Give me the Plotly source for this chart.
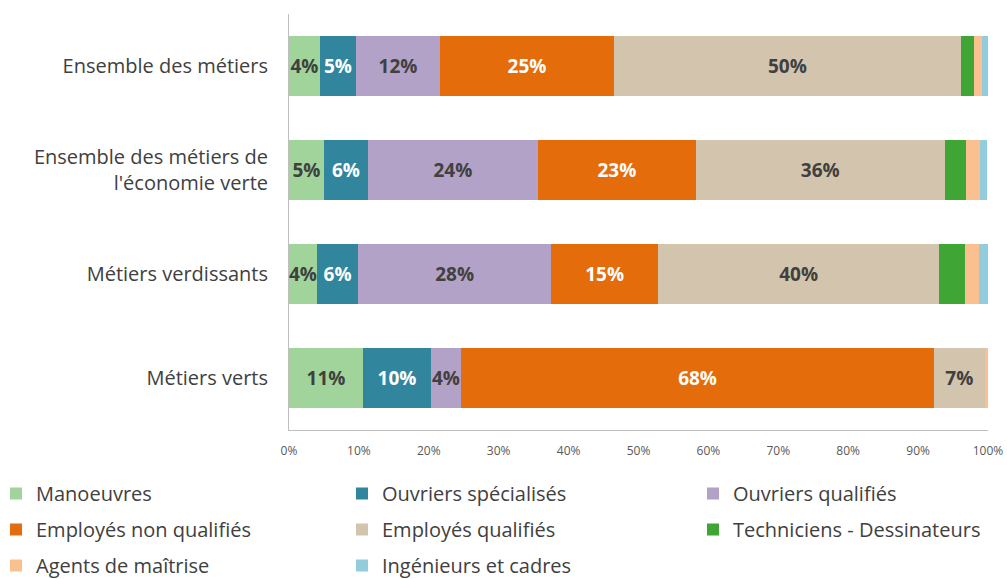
import plotly.graph_objects as go

# categories (top to bottom)
categories = [
    "Ensemble des métiers",
    "Ensemble des métiers de<br>l'économie verte",
    "Métiers verdissants",
    "Métiers verts",
]

series_names = [
    "Manoeuvres",
    "Ouvriers spécialisés",
    "Ouvriers qualifiés",
    "Employés non qualifiés",
    "Employés qualifiés",
    "Techniciens - Dessinateurs",
    "Agents de maîtrise",
    "Ingénieurs et cadres",
]

# shares in %
manoeuvres = [4.4, 5.0, 4.0, 10.6]
ouvriers_specialises = [5.2, 6.3, 5.9, 9.7]
ouvriers_qualifies = [12.0, 24.3, 27.6, 4.3]
employes_non_qualifies = [24.9, 22.6, 15.3, 67.7]
employes_qualifies = [49.6, 35.6, 40.2, 7.2]
techniciens = [1.9, 3.1, 3.7, 0.0]
agents_maitrise = [1.1, 1.9, 2.0, 0.6]
ingenieurs = [0.9, 1.1, 1.3, 0.0]

# labels printed in the bars
lbl_manoeuvres = ["4%", "5%", "4%", "11%"]
lbl_ouvriers_specialises = ["5%", "6%", "6%", "10%"]
lbl_ouvriers_qualifies = ["12%", "24%", "28%", "4%"]
lbl_employes_non_qualifies = ["25%", "23%", "15%", "68%"]
lbl_employes_qualifies = ["50%", "36%", "40%", "7%"]
lbl_empty = ["", "", "", ""]

tick_vals = [0, 10, 20, 30, 40, 50, 60, 70, 80, 90, 100]
tick_text = ["0%", "10%", "20%", "30%", "40%", "50%", "60%", "70%", "80%", "90%", "100%"]

colors = ["#A1D49B", "#31859C", "#B3A2C7", "#E46C0A", "#D3C4AE", "#3FA535", "#FAC090", "#93CDDD"]
text_colors = ["#404040", "#FFFFFF", "#404040", "#FFFFFF", "#404040", "#404040", "#404040", "#404040"]

valeurs = [manoeuvres, ouvriers_specialises, ouvriers_qualifies, employes_non_qualifies,
           employes_qualifies, techniciens, agents_maitrise, ingenieurs]
etiquettes = [lbl_manoeuvres, lbl_ouvriers_specialises, lbl_ouvriers_qualifies,
              lbl_employes_non_qualifies, lbl_employes_qualifies, lbl_empty, lbl_empty, lbl_empty]

FONT = "'Open Sans', sans-serif"
W, H = 1007, 579
ML, MR, MT, MB = 289, 19, 14, 149
PW, PH = W - ML - MR, H - MT - MB

def px_x(px):
    # pixel -> paper x
    return (px - ML) / PW

def px_y(py):
    # pixel -> paper y
    return (H - MB - py) / PH

legendes = ["legend", "legend2", "legend3"]

fig = go.Figure()
for i, (nom, vals, txt, col, tcol) in enumerate(zip(series_names, valeurs, etiquettes, colors, text_colors)):
    fig.add_trace(go.Bar(
        y=categories, x=vals, name=nom, orientation="h",
        marker=dict(color=col, line=dict(width=0)),
        text=txt, textposition="inside", insidetextanchor="middle", textangle=0,
        textfont=dict(family=FONT, size=19, color=tcol, weight="bold"),
        constraintext="none", hoverinfo="x+name",
        legend=legendes[i % 3], legendgroup=nom,
    ))

leg_style = dict(
    orientation="v", xanchor="left", yanchor="top", y=px_y(474),
    font=dict(family=FONT, size=20, color="#404040"),
    itemwidth=30, tracegroupgap=7, bgcolor="rgba(0,0,0,0)",
)

fig.update_layout(
    barmode="stack", bargap=0.43,
    width=W, height=H,
    margin=dict(l=ML, r=MR, t=MT, b=MB, autoexpand=False),
    paper_bgcolor="white", plot_bgcolor="white",
    font=dict(family=FONT, color="#404040"),
    uniformtext=dict(mode="show", minsize=19),
    legend=dict(x=px_x(-4), **leg_style),
    legend2=dict(x=px_x(342), **leg_style),
    legend3=dict(x=px_x(693), **leg_style),
)
fig.update_xaxes(
    range=[0, 100], tickvals=tick_vals, ticktext=tick_text,
    showgrid=False, zeroline=False, showline=True, linecolor="#BFBFBF", linewidth=1,
    tickfont=dict(family=FONT, size=12, color="#595959"), ticks="", ticklabelstandoff=10,
)
fig.update_yaxes(
    autorange="reversed", showgrid=False, showline=True, linecolor="#BFBFBF", linewidth=1,
    tickfont=dict(family=FONT, size=20, color="#404040"), ticks="", ticklabelstandoff=16,
)

fig.write_html(
    "out.html",
    config={"displayModeBar": False},
    post_script="document.body.style.margin = '0px';",
)
